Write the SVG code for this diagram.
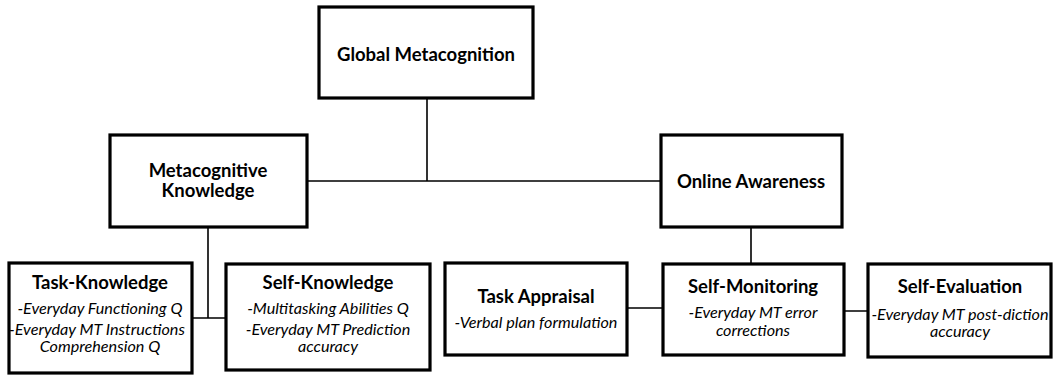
<svg xmlns="http://www.w3.org/2000/svg" width="1053" height="375" viewBox="0 0 1053 375">
<style>
.box{fill:#fff;stroke:#000;stroke-width:3.2}
.con{stroke:#000;stroke-width:1.6;fill:none}
.t{font-family:Lato,"Open Sans",sans-serif;font-weight:bold;font-size:18.5px;text-anchor:middle;fill:#000}
.i{font-family:Lato,"Open Sans",sans-serif;font-style:italic;font-size:16.2px;text-anchor:middle;fill:#000}
</style>
<rect width="1053" height="375" fill="#fff"/>
<g id="connectors">
<path class="con" d="M427 98 V181 M307 181 H661"/>
<path class="con" d="M208 227 V318 M192 318 H226"/>
<path class="con" d="M751 227 V264 M627 308 H663 M844 311 H868"/>
</g>
<g id="global"><rect class="box" x="319" y="7" width="214" height="91"/><text class="t" x="426" y="61">Global Metacognition</text></g>
<g id="metaknow"><rect class="box" x="110" y="135" width="197" height="92"/><text class="t" x="208" y="177">Metacognitive</text><text class="t" x="208" y="197">Knowledge</text></g>
<g id="online"><rect class="box" x="661" y="135" width="181" height="92"/><text class="t" x="751" y="188">Online Awareness</text></g>
<g id="taskknow"><rect class="box" x="9" y="263" width="183" height="110"/><text class="t" x="100" y="289">Task-Knowledge</text><text class="i" x="100" y="314">-Everyday Functioning Q</text><text class="i" x="97" y="334.5">-Everyday MT Instructions</text><text class="i" x="100" y="352">Comprehension Q</text></g>
<g id="selfknow"><rect class="box" x="226" y="264" width="204" height="106"/><text class="t" x="328" y="289">Self-Knowledge</text><text class="i" x="328" y="314">-Multitasking Abilities Q</text><text class="i" x="328" y="334.5">-Everyday MT Prediction</text><text class="i" x="328" y="352">accuracy</text></g>
<g id="appraisal"><rect class="box" x="445" y="263" width="182" height="92"/><text class="t" x="536" y="303">Task Appraisal</text><text class="i" x="536" y="328">-Verbal plan formulation</text></g>
<g id="monitor"><rect class="box" x="663" y="264" width="181" height="91"/><text class="t" x="753" y="293">Self-Monitoring</text><text class="i" x="753" y="318">-Everyday MT error</text><text class="i" x="753" y="336">corrections</text></g>
<g id="evaluation"><rect class="box" x="868" y="264" width="183" height="93"/><text class="t" x="960" y="293">Self-Evaluation</text><text class="i" x="960" y="320">-Everyday MT post-diction</text><text class="i" x="960" y="337">accuracy</text></g>
</svg>
